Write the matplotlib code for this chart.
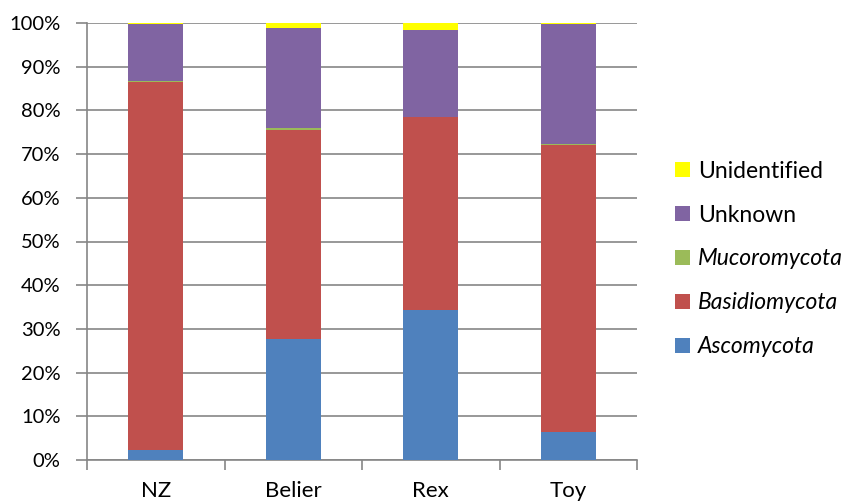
import matplotlib.pyplot as plt
import numpy as np
from matplotlib.patches import Patch
from matplotlib.ticker import PercentFormatter

plt.rcParams['font.family'] = ['Lato', 'DejaVu Sans']

samples = ['NZ', 'Belier', 'Rex', 'Toy']

# share of reads per group (%), bottom to top of the stack
ascomycota = [2.3, 27.6, 34.3, 6.4]
basidiomycota = [84.1, 47.9, 44.2, 65.6]
mucoromycota = [0.3, 0.4, 0.1, 0.3]
unknown = [13.0, 22.9, 19.7, 27.4]
unidentified = [0.3, 1.2, 1.7, 0.3]

groups = ['Ascomycota', 'Basidiomycota', 'Mucoromycota', 'Unknown', 'Unidentified']
values = [ascomycota, basidiomycota, mucoromycota, unknown, unidentified]
colors = ['#4F81BD', '#C0504D', '#9BBB59', '#8064A2', '#FFFF00']
italic = [True, True, True, False, False]

grey = '#868686'

fig = plt.figure(figsize=(8.47, 5.04), dpi=100)
ax = fig.add_axes([87 / 847, 1 - 460 / 504, 550 / 847, (460 - 23) / 504])

x = np.arange(len(samples))
bottom = np.zeros(len(samples))
for name, vals, c in zip(groups, values, colors):
    ax.bar(x, vals, 0.4, bottom=bottom, color=c, label=name, zorder=3)
    bottom += np.array(vals)

ax.set_xlim(-0.5, len(samples) - 0.5)
ax.set_ylim(0, 100)
ax.set_yticks(np.arange(0, 101, 10))
ax.yaxis.set_major_formatter(PercentFormatter(decimals=0))
ax.grid(axis='y', color=grey, linewidth=1.2, zorder=0)

# boundaries get the tick marks, centres get the names
ax.set_xticks(np.arange(-0.5, len(samples), 1.0))
ax.set_xticklabels([])
ax.set_xticks(x, minor=True)
ax.set_xticklabels(samples, minor=True)
ax.tick_params(axis='x', which='minor', length=0, pad=15, labelsize=16)
ax.tick_params(axis='x', which='major', length=7, color=grey, width=1.2)
ax.tick_params(axis='y', length=8, color=grey, width=1.2, pad=11, labelsize=14.5)

for side in ['top', 'right']:
    ax.spines[side].set_visible(False)
for side in ['left', 'bottom']:
    ax.spines[side].set_color(grey)
    ax.spines[side].set_linewidth(1.2)

handles = [Patch(facecolor=c, label=n) for n, c in zip(groups, colors)][::-1]
leg = fig.legend(handles=handles, loc='center left', bbox_to_anchor=(675 / 847, 1 - 259 / 504),
                 frameon=False, fontsize=16.5, handlelength=0.65, handleheight=0.65,
                 handletextpad=0.35, labelspacing=1.0, borderpad=0, borderaxespad=0)
for txt, it in zip(leg.get_texts(), italic[::-1]):
    if it:
        txt.set_style('italic')

fig.savefig('out.png', dpi=100)
